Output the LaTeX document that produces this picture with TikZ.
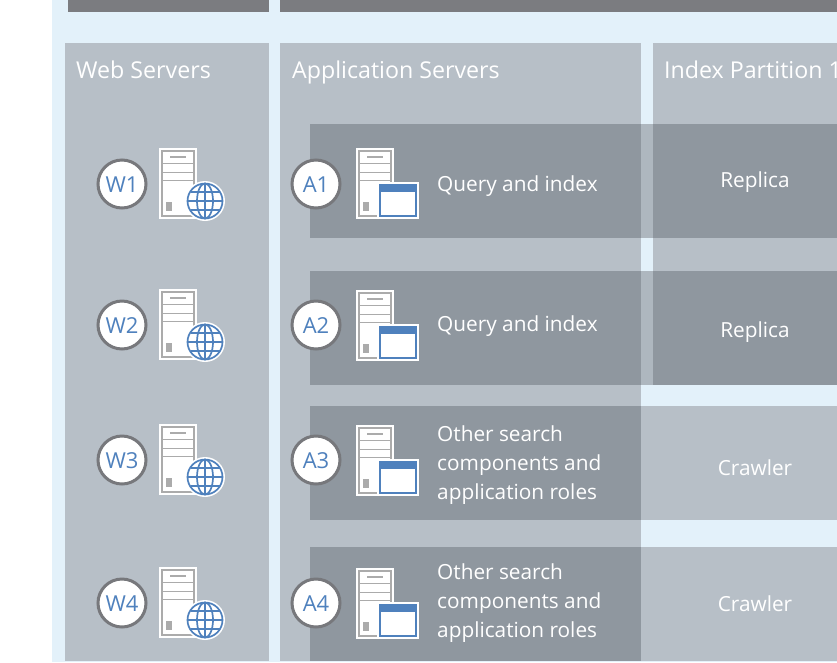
\documentclass[tikz,border=0pt]{standalone}
\usepackage{fontspec}
\setmainfont{Open Sans}
\definecolor{bgblue}{HTML}{E3F1FA}
\definecolor{panel}{HTML}{B7BFC7}
\definecolor{rowdark}{HTML}{8F979F}
\definecolor{gapmid}{HTML}{AEB7BF}
\definecolor{topbar}{HTML}{7B7C80}
\definecolor{ringgrey}{HTML}{77787C}
\definecolor{iconblue}{HTML}{4F81BD}
\definecolor{icongrey}{HTML}{ABABAB}
\tikzset{
  x=1pt,y=-1pt,
  txt/.style={text=white,font=\fontsize{20.8}{24}\selectfont,inner sep=0pt,anchor=base},
  txtl/.style={txt,anchor=base west},
  head/.style={text=white,font=\fontsize{23.2}{28}\selectfont,inner sep=0pt,anchor=base west},
  badge/.style={circle,draw=ringgrey,line width=3pt,fill=white,minimum size=48pt,inner sep=0pt},
  badgetxt/.style={text=iconblue,font=\fontsize{22}{24}\selectfont,inner sep=0pt,anchor=base},
  server/.pic={
    \fill[white] (0,0) rectangle (38,71);
    \fill[icongrey] (2,2) rectangle (36,69);
    \fill[white] (4,4) rectangle (34,67);
    \fill[icongrey] (4,15.5) rectangle (34,16.8);
    \fill[icongrey] (4,24) rectangle (34,25.3);
    \fill[icongrey] (4,32) rectangle (34,33.3);
    \fill[icongrey] (11,8) rectangle (27,10);
    \fill[icongrey] (7,54) rectangle (13,63);
  },
  globe/.pic={
    \fill[white] (0,0) circle[radius=20];
    \begin{scope}[iconblue,line width=1.7pt]
      \draw (0,0) circle[radius=17.5];
      \draw (0,0) ellipse[x radius=8,y radius=17.5];
      \draw (0,-17.5) -- (0,17.5);
      \draw (-17.5,0) -- (17.5,0);
      \draw (-14.5,-9) -- (14.5,-9);
      \draw (-14.5,9) -- (14.5,9);
    \end{scope}
  },
  window/.pic={
    \fill[white] (0,0) rectangle (42,37);
    \fill[iconblue] (2,2) rectangle (40,35);
    \fill[white] (4,10) rectangle (38,33);
  }
}
\begin{document}
\begin{tikzpicture}
\useasboundingbox (0,0) rectangle (837,662);
\fill[white] (0,0) rectangle (837,662);
\fill[bgblue] (52,0) rectangle (837,662);
\fill[topbar] (68,0) rectangle (269,12);
\fill[topbar] (280,0) rectangle (837,12);
% panels
\fill[panel] (65,43) rectangle (269,661);
\fill[panel] (280,43) rectangle (641,661);
\fill[panel] (653,43) rectangle (837,385);
\fill[panel] (641,406) rectangle (837,520);
\fill[panel] (641,547) rectangle (837,661);
% rows
\fill[rowdark] (310,124) rectangle (837,238);
\fill[rowdark] (310,271) rectangle (837,385);
\fill[rowdark] (310,406) rectangle (641,520);
\fill[rowdark] (310,547) rectangle (641,661);
\fill[gapmid] (641,124) rectangle (653,238);
\fill[gapmid] (641,271) rectangle (653,385);
% headings
\node[head] (hw) at (76,78) {Web Servers};
\node[head] (ha) at (292,78) {Application Servers};
\node[head] (hi) at (664,78) {Index Partition 1};
% web column
\foreach \n/\cy/\sy in {W1/184/147.5,W2/325/288.5,W3/460/423.5,W4/603/566.5}{
  \pic at (159,\sy) {server};
  \pic at (205,\sy+53.5) {globe};
  \node[badge] (b\n) at (122,\cy) {};
  \node[badgetxt] (t\n) at (122,\cy+8) {\n};
}
% app column
\foreach \n/\cy/\sy in {A1/184/147.5,A2/325/289.5,A3/460/424.5,A4/603/567.5}{
  \pic at (356,\sy) {server};
  \pic at (377,\sy+34) {window};
  \node[badge] (b\n) at (316,\cy) {};
  \node[badgetxt] (t\n) at (316,\cy+8) {\n};
}
% labels
\node[txtl] (q1) at (437,191) {Query and index};
\node[txtl] (q2) at (437,331) {Query and index};
\node[txtl] (o3a) at (437,441) {Other search};
\node[txtl] (o3b) at (437,470) {components and};
\node[txtl] (o3c) at (437,499) {application roles};
\node[txtl] (o4a) at (437,579) {Other search};
\node[txtl] (o4b) at (437,608) {components and};
\node[txtl] (o4c) at (437,637) {application roles};
\node[txt] (r1) at (755,187.500) {Replica};
\node[txt] (r2) at (755,337.500) {Replica};
\node[txt] (c1) at (755,475) {Crawler};
\node[txt] (c2) at (755,611) {Crawler};
\end{tikzpicture}
\end{document}
